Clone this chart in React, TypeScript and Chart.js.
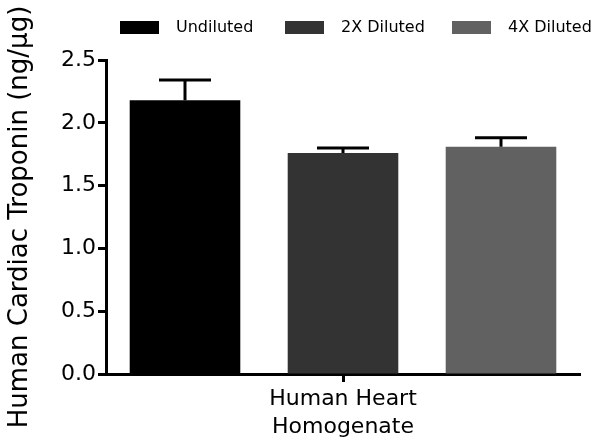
import React, { useEffect, useRef } from "react";
import { Chart, registerables } from "chart.js";

Chart.register(...registerables);

const categories: string[][] = [["Human Heart", "Homogenate"]];
const seriesNames = ["Undiluted", "2X Diluted", "4X Diluted"];
const seriesColors = ["#000000", "#333333", "#616161"];
const undiluted = [2.18];
const diluted2x = [1.76];
const diluted4x = [1.81];
const errUndiluted = [0.16];
const err2x = [0.04];
const err4x = [0.07];
const yTicks = [0, 0.5, 1.0, 1.5, 2.0, 2.5];

const FONT = "'DejaVu Sans', sans-serif";

const errorBarPlugin = {
  id: "errorBars",
  afterDatasetsDraw(chart: any) {
    const ctx = chart.ctx;
    const yScale = chart.scales.y;
    chart.data.datasets.forEach((ds: any, di: number) => {
      const meta = chart.getDatasetMeta(di);
      meta.data.forEach((bar: any, i: number) => {
        const v = ds.data[i];
        const e = ds.errors[i];
        const yTop = yScale.getPixelForValue(v + e);
        const yBase = yScale.getPixelForValue(v);
        ctx.save();
        ctx.strokeStyle = "#000";
        ctx.lineWidth = 3;
        ctx.beginPath();
        ctx.moveTo(bar.x, yBase);
        ctx.lineTo(bar.x, yTop);
        ctx.moveTo(bar.x - 26, yTop);
        ctx.lineTo(bar.x + 26, yTop);
        ctx.stroke();
        ctx.restore();
      });
    });
  },
};

const legendPlugin = {
  id: "customLegend",
  afterDraw(chart: any) {
    const ctx = chart.ctx;
    const boxXs = [120, 285, 452];
    ctx.save();
    ctx.font = `16px ${FONT}`;
    ctx.textBaseline = "middle";
    ctx.textAlign = "left";
    chart.data.datasets.forEach((ds: any, i: number) => {
      const x = boxXs[i];
      ctx.fillStyle = ds.backgroundColor;
      ctx.fillRect(x, 21, 39, 13);
      ctx.fillStyle = "#000";
      ctx.fillText(ds.label, x + 56, 28);
    });
    ctx.restore();
  },
};

export default function App() {
  const ref = useRef<HTMLCanvasElement>(null);
  useEffect(() => {
    if (!ref.current) return;
    const errs = [errUndiluted, err2x, err4x];
    const vals = [undiluted, diluted2x, diluted4x];
    const chart = new Chart(ref.current, {
      type: "bar",
      data: {
        labels: categories as any,
        datasets: seriesNames.map((name, i) => ({
          label: name,
          data: vals[i],
          errors: errs[i],
          backgroundColor: seriesColors[i],
          borderWidth: 0,
          categoryPercentage: 1.0,
          barPercentage: 0.7,
        })) as any,
      },
      options: {
        animation: false,
        responsive: true,
        maintainAspectRatio: false,
        layout: { padding: { top: 60, right: 14, left: 0, bottom: 0 } },
        plugins: {
          legend: { display: false },
          tooltip: { enabled: false },
        },
        scales: {
          x: {
            offset: true,
            grid: {
              offset: false,
              drawOnChartArea: false,
              drawTicks: true,
              tickLength: 8,
              tickWidth: 3,
              tickColor: "#000",
            },
            border: { color: "#000", width: 3 },
            ticks: {
              color: "#000",
              font: { family: FONT, size: 22, lineHeight: 1.25 },
              padding: 4,
              maxRotation: 0,
            },
            afterFit(scale: any) {
              scale.height = 73;
            },
          },
          y: {
            min: 0,
            max: 2.5,
            afterBuildTicks(scale: any) {
              scale.ticks = yTicks.map((v) => ({ value: v }));
            },
            grid: {
              drawOnChartArea: false,
              drawTicks: true,
              tickLength: 8,
              tickWidth: 3,
              tickColor: "#000",
            },
            border: { color: "#000", width: 3 },
            ticks: {
              color: "#000",
              font: { family: FONT, size: 22 },
              padding: 2,
              callback: (v: any) => Number(v).toFixed(1),
            },
            title: {
              display: true,
              text: "Human Cardiac Troponin (ng/µg)",
              color: "#000",
              font: { family: FONT, size: 26 },
              padding: { top: 5, bottom: 0 },
            },
            afterFit(scale: any) {
              scale.width = 106;
            },
          },
        },
      },
      plugins: [errorBarPlugin, legendPlugin],
    });
    return () => chart.destroy();
  }, []);
  return (
    <div style={{ position: "fixed", left: 0, top: 0, width: 594, height: 447, background: "#fff" }}>
      <canvas ref={ref} />
    </div>
  );
}
